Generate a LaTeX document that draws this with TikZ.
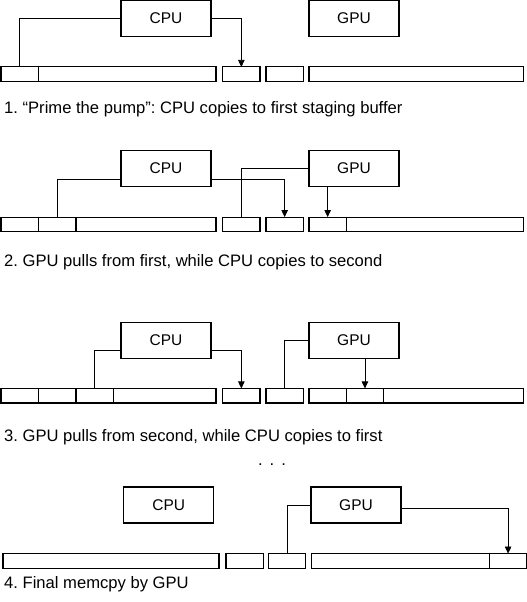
\documentclass[tikz,border=0pt]{standalone}
\usepackage{fontspec}
\setmainfont{Liberation Sans}
\usetikzlibrary{arrows.meta, positioning}
\frenchspacing

\tikzset{
    proc/.style={
        rectangle, draw, minimum width=90pt, minimum height=36pt,
        line width=1.1pt, font=\fontsize{15.5}{18}\selectfont
    },
    seg/.style={
        rectangle, draw, minimum height=14.5pt, inner sep=0pt, outer sep=0pt,
        line width=1.1pt
    },
    blk/.style={seg, minimum width=37.5pt},
    stage/.style={seg, minimum width=37.3pt},
    link/.style={line width=0.7pt},
    copyarrow/.style={-{Triangle[length=7pt,width=6.5pt]}, line width=0.7pt},
    caption/.style={anchor=base west, inner sep=0pt, font=\fontsize{16.6}{19}\selectfont}
}

\begin{document}
\begin{tikzpicture}[x=1pt, y=-1pt]
\useasboundingbox (0,0) rectangle (527,602);

% Step 1
\node[proc] (cpuA) at (166,18.5) {CPU};
\node[proc] (gpuA) at (354,18.5) {GPU};
\node[blk, anchor=west] (hostA1) at (1,74.2) {};
\node[seg, minimum width=177.5pt, right=0pt of hostA1] (hostA2) {};
\node[stage, right=6.7pt of hostA2] (stgA1) {};
\node[stage, right=6pt of stgA1] (stgA2) {};
\node[seg, minimum width=214.3pt, right=5.7pt of stgA2] (devA) {};
\node[caption] (capA) at (4,113) {1. “Prime the pump”: CPU copies to first staging buffer};

\draw[link] (cpuA.west) -| (hostA1.north);
\draw[copyarrow] (cpuA.east) -| (stgA1.north);

% Step 2
\node[proc] (cpuB) at (166,168.5) {CPU};
\node[proc] (gpuB) at (354,168.5) {GPU};
\node[blk, anchor=west] (hostB1) at (1,224.3) {};
\node[blk, right=0pt of hostB1] (hostB2) {};
\node[seg, minimum width=140pt, right=0pt of hostB2] (hostB3) {};
\node[stage, right=6.7pt of hostB3] (stgB1) {};
\node[stage, right=6pt of stgB1] (stgB2) {};
\node[stage, right=5.7pt of stgB2] (devB1) {};
\node[seg, minimum width=177pt, right=0pt of devB1] (devB2) {};
\node[caption] (capB) at (4,266.7) {2. GPU pulls from first, while CPU copies to second};

\draw[link] ([yshift=-10.5pt]cpuB.west) -| (hostB2.north);
\draw[copyarrow] ([yshift=-10.5pt]cpuB.east) -| (stgB2.north);
\draw[link] (gpuB.west) -| (stgB1.north);
\draw[copyarrow] (gpuB.south -| devB1.north) -- (devB1.north);

% Step 3
\node[proc] (cpuC) at (166,340.3) {CPU};
\node[proc] (gpuC) at (354,340.3) {GPU};
\node[blk, anchor=west] (hostC1) at (1,395.7) {};
\node[blk, right=0pt of hostC1] (hostC2) {};
\node[blk, right=0pt of hostC2] (hostC3) {};
\node[seg, minimum width=102.5pt, right=0pt of hostC3] (hostC4) {};
\node[stage, right=6.7pt of hostC4] (stgC1) {};
\node[stage, right=6pt of stgC1] (stgC2) {};
\node[stage, right=5.7pt of stgC2] (devC1) {};
\node[stage, right=0pt of devC1] (devC2) {};
\node[seg, minimum width=139.7pt, right=0pt of devC2] (devC3) {};
\node[caption] (capC) at (4,441.7) {3. GPU pulls from second, while CPU copies to first};

\draw[link] ([yshift=-10.5pt]cpuC.west) -| (hostC3.north);
\draw[copyarrow] ([yshift=-10.5pt]cpuC.east) -| (stgC1.north);
\draw[link] (gpuC.west) -| (stgC2.north);
\draw[copyarrow] (gpuC.south -| devC2.north) -- (devC2.north);

% ...
\node[anchor=base, inner sep=0pt, font=\fontsize{16.6}{19}\selectfont] (dots) at (272,465) {.\hspace{7pt}.\hspace{7pt}.};

% Step 4
\node[proc] (cpuD) at (168.7,505) {CPU};
\node[proc] (gpuD) at (356,505) {GPU};
\node[seg, minimum width=216pt, anchor=west] (hostD1) at (3,560.8) {};
\node[stage, right=7pt of hostD1] (stgD1) {};
\node[stage, right=5pt of stgD1] (stgD2) {};
\node[seg, minimum width=178pt, right=6pt of stgD2] (devD1) {};
\node[seg, minimum width=37pt, right=0pt of devD1] (devD2) {};
\node[caption] (capD) at (4,588.3) {4. Final memcpy by GPU};

\draw[link] (gpuD.west) -| (stgD2.north);
\draw[copyarrow] ([yshift=-3pt]gpuD.east) -| (devD2.north);

\end{tikzpicture}
\end{document}
